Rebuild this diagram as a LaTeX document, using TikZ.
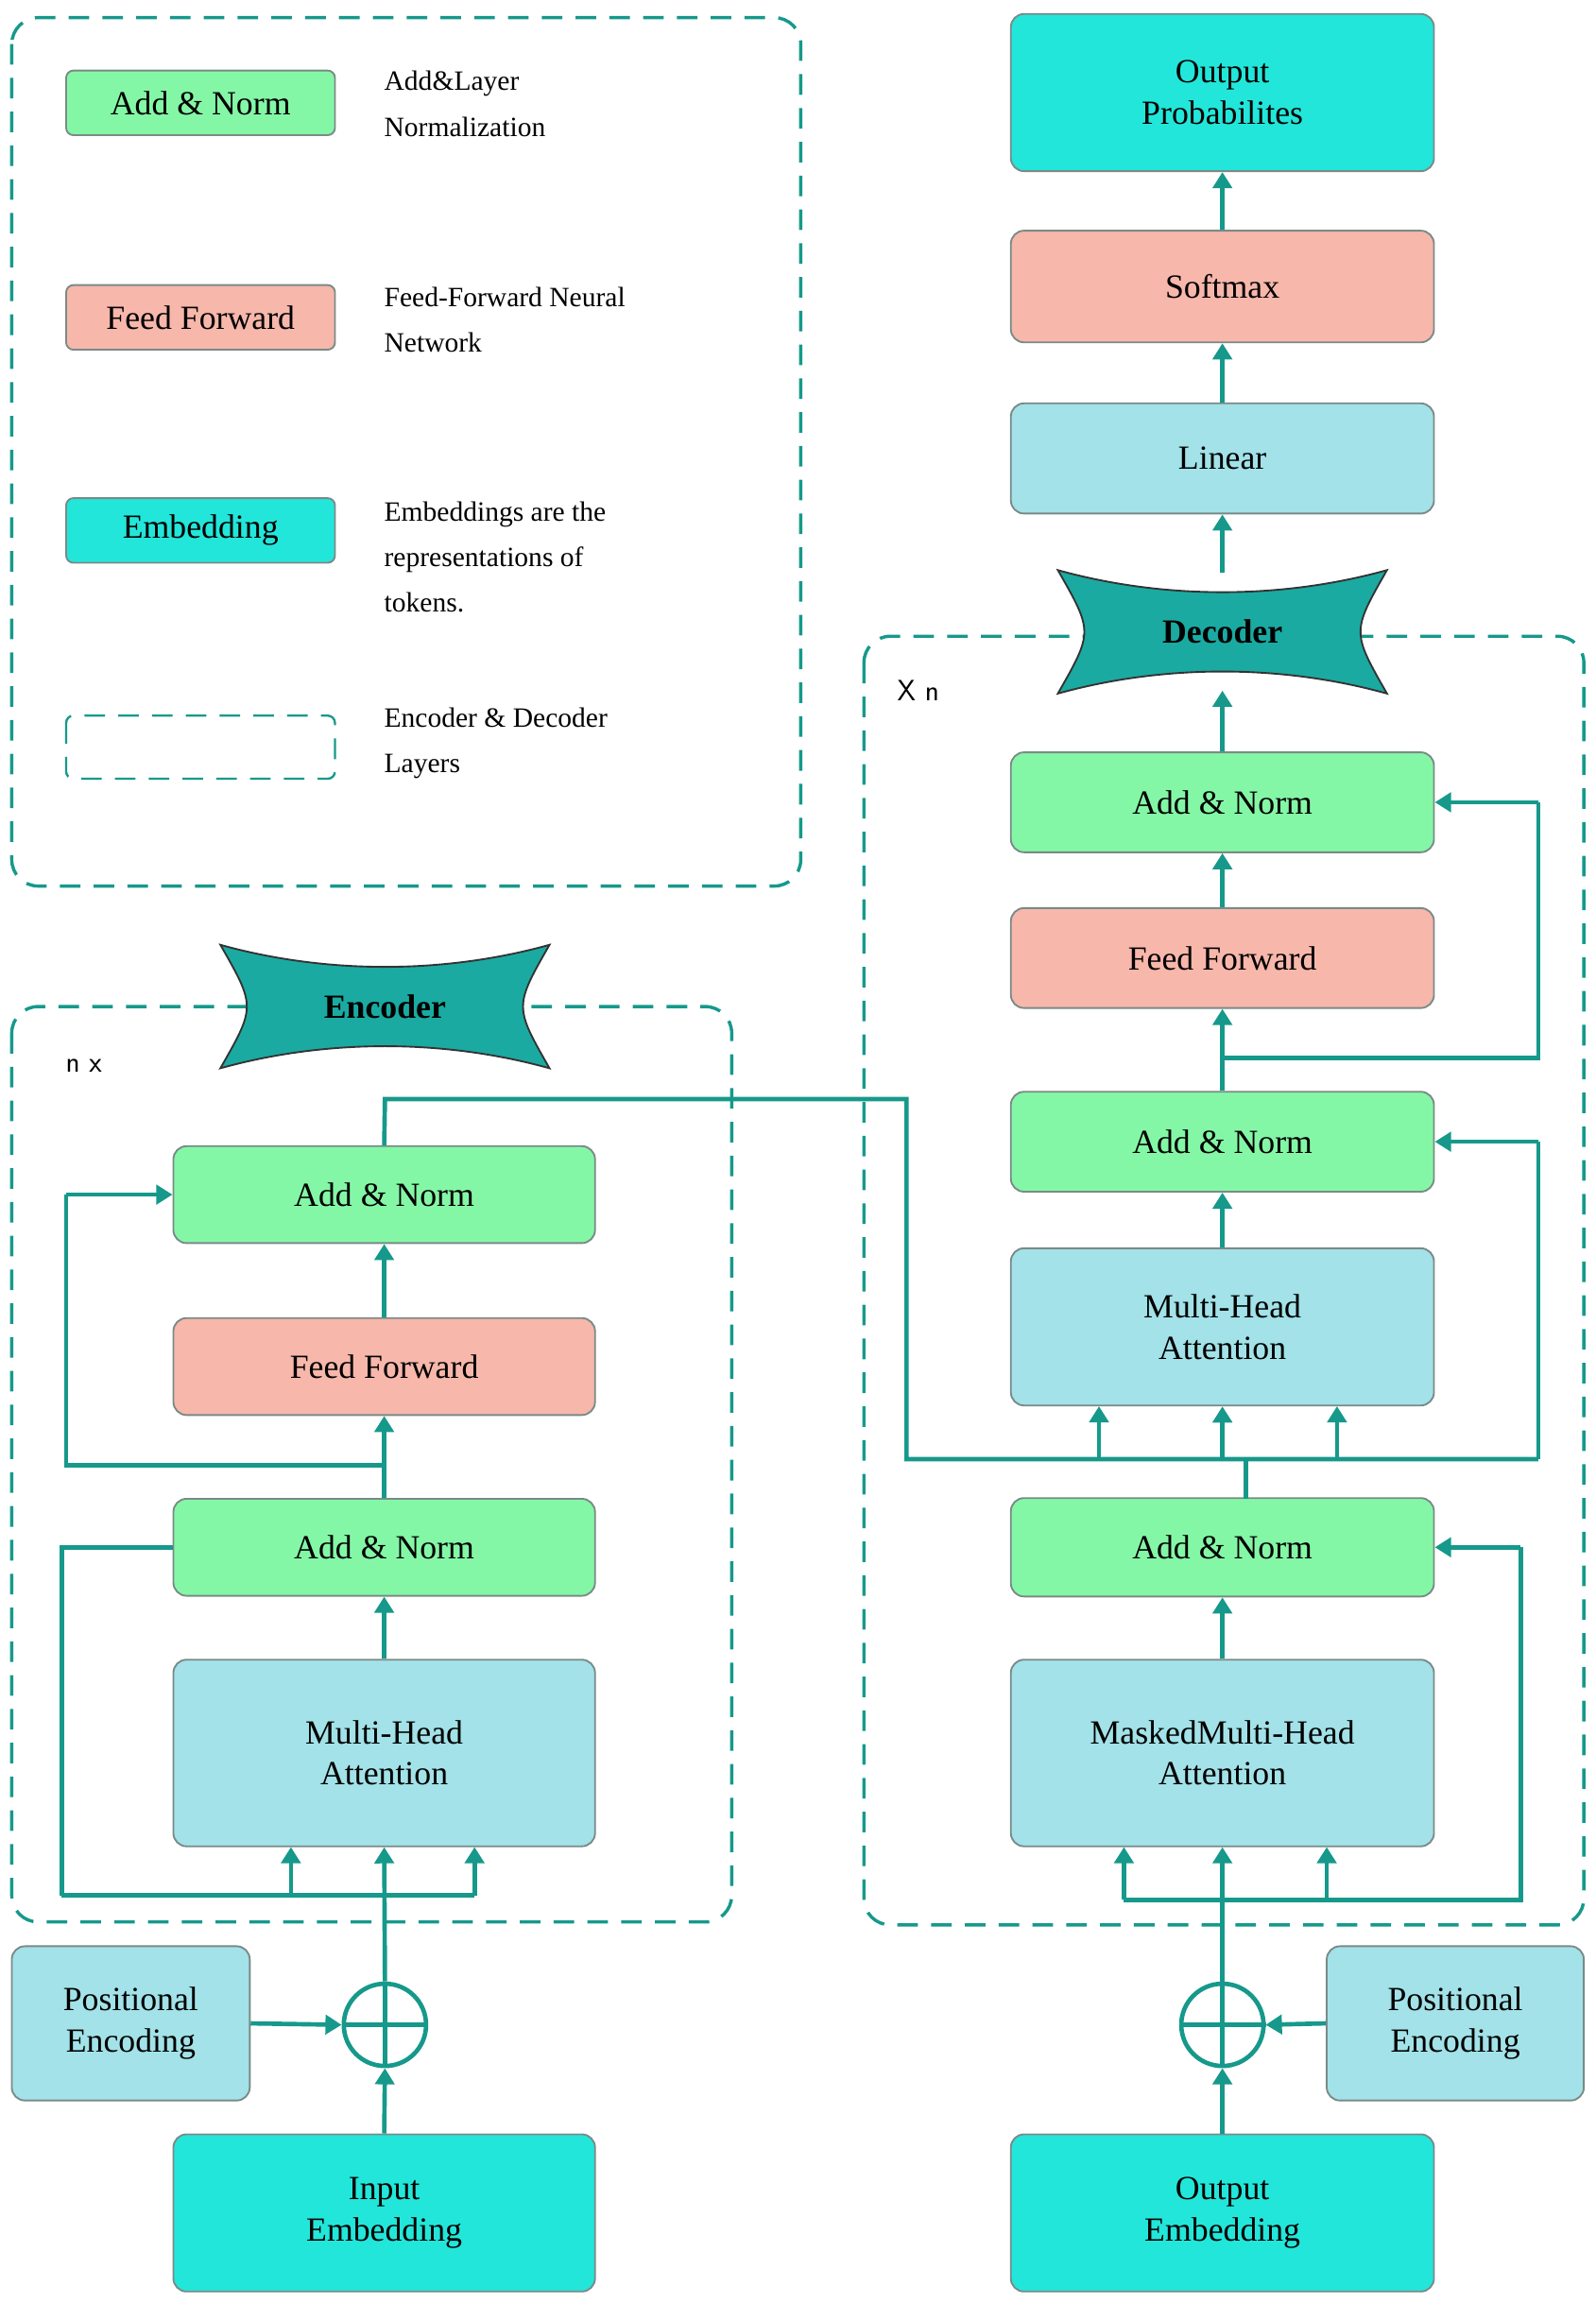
\documentclass[tikz,border=0pt]{standalone}
\usepackage{fontspec}
\setmainfont{Liberation Serif}
\usetikzlibrary{arrows.meta}
\definecolor{ln}{HTML}{16998B}
\definecolor{gr}{HTML}{84F7A6}
\definecolor{sa}{HTML}{F7B7AB}
\definecolor{cy}{HTML}{22E6DA}
\definecolor{lb}{HTML}{A2E2E8}
\definecolor{ban}{HTML}{1AAAA2}
\definecolor{bd}{HTML}{7A8A88}
\begin{document}
\begin{tikzpicture}[x=1pt,y=-1pt,
 box/.style={draw=bd,line width=1.2pt,rounded corners=9pt,font=\fontsize{23}{28}\selectfont,align=center,inner sep=0pt},
 lay/.style={draw=ln,line width=2.2pt,dash pattern=on 14pt off 9pt,rounded corners=18pt},
 con/.style={draw=ln,line width=3pt},
 arr/.style={con,-{Triangle[length=11pt,width=13pt]}},
 leg/.style={font=\fontsize{19}{31}\selectfont,align=left,anchor=north west}]
\useasboundingbox (0,0) rectangle (1086,1568);
% legend
\draw[lay] (8,12) rectangle (545,603);
\node[box,fill=gr,minimum width=183pt,minimum height=44pt,rounded corners=5pt] (l1) at (136.5,70) {Add \& Norm};
\node[box,fill=sa,minimum width=183pt,minimum height=44pt,rounded corners=5pt] (l2) at (136.5,216) {Feed Forward};
\node[box,fill=cy,minimum width=183pt,minimum height=44pt,rounded corners=5pt] (l3) at (136.5,361) {Embedding};
\draw[draw=ln,line width=1.5pt,dash pattern=on 14pt off 9pt,rounded corners=5pt] (45,487) rectangle (228,530);
\node[leg] (t1) at (258,45) {Add\&Layer\\Normalization};
\node[leg] (t2) at (258,192) {Feed-Forward Neural\\Network};
\node[leg] (t3) at (258,338) {Embeddings are the\\representations of\\tokens.};
\node[leg] (t4) at (258,478) {Encoder \& Decoder\\Layers};
% layer boxes
\draw[lay] (8,685) rectangle (498,1308);
\draw[lay] (588,433) rectangle (1078,1310);
\node[font=\fontsize{20}{24}\selectfont\sffamily] (nx) at (57,725) {n x};
\node[font=\fontsize{20}{24}\selectfont\sffamily] (xn) at (625,470) {X n};
% banners
\foreach \n/\cx/\cy/\t in {enc/262/685/Encoder,dec/832/430/Decoder}{
 \fill[ban,draw=black!80,line width=1.2pt] (\cx-112,\cy-42) .. controls (\cx-40,\cy-22) and (\cx+40,\cy-22) .. (\cx+112,\cy-42) .. controls (\cx+88,\cy) .. (\cx+112,\cy+42) .. controls (\cx+40,\cy+22) and (\cx-40,\cy+22) .. (\cx-112,\cy+42) .. controls (\cx-88,\cy) .. cycle;
 \node[font=\fontsize{23}{28}\selectfont\bfseries,minimum width=170pt,minimum height=60pt] (\n) at (\cx,\cy) {\t};
}
% encoder
\node[box,fill=gr,minimum width=287pt,minimum height=66pt] (ea2) at (261.5,813) {Add \& Norm};
\node[box,fill=sa,minimum width=287pt,minimum height=66pt] (eff) at (261.5,930) {Feed Forward};
\node[box,fill=gr,minimum width=287pt,minimum height=66pt] (ea1) at (261.5,1053) {Add \& Norm};
\node[box,fill=lb,minimum width=287pt,minimum height=127pt] (emh) at (261.5,1193) {Multi-Head\\Attention};
\node[box,fill=cy,minimum width=287pt,minimum height=107pt] (ein) at (261.5,1506) {Input\\Embedding};
\node[box,fill=lb,minimum width=162pt,minimum height=105pt] (epe) at (89,1377) {Positional\\Encoding};
\node[circle,draw=ln,line width=3pt,minimum size=56pt,inner sep=0pt] (eop) at (262,1378) {};
\draw[con] (eop.north)--(eop.south) (eop.west)--(eop.east);
% decoder
\node[box,fill=cy,minimum width=288pt,minimum height=107pt] (out) at (832,63) {Output\\Probabilites};
\node[box,fill=sa,minimum width=288pt,minimum height=76pt] (sm) at (832,195) {Softmax};
\node[box,fill=lb,minimum width=288pt,minimum height=75pt] (lin) at (832,312) {Linear};
\node[box,fill=gr,minimum width=288pt,minimum height=68pt] (da3) at (832,546) {Add \& Norm};
\node[box,fill=sa,minimum width=288pt,minimum height=68pt] (dff) at (832,652) {Feed Forward};
\node[box,fill=gr,minimum width=288pt,minimum height=68pt] (da2) at (832,777) {Add \& Norm};
\node[box,fill=lb,minimum width=288pt,minimum height=107pt] (dmh) at (832,903) {Multi-Head\\Attention};
\node[box,fill=gr,minimum width=288pt,minimum height=67pt] (da1) at (832,1053) {Add \& Norm};
\node[box,fill=lb,minimum width=288pt,minimum height=127pt] (dmm) at (832,1193) {MaskedMulti-Head\\Attention};
\node[box,fill=cy,minimum width=288pt,minimum height=107pt] (dout) at (832,1506) {Output\\Embedding};
\node[box,fill=lb,minimum width=175pt,minimum height=105pt] (dpe) at (990.5,1377) {Positional\\Encoding};
\node[circle,draw=ln,line width=3pt,minimum size=56pt,inner sep=0pt] (dop) at (832,1378) {};
\draw[con] (dop.north)--(dop.south) (dop.west)--(dop.east);
% encoder connectors
\draw[arr] (ein.north)--(eop.south);
\draw[arr] (epe.east)--(eop.west);
\draw[arr] (eop.north)--(emh.south);
\draw[con] (42,1290)--(323,1290);
\draw[arr] (198,1290)--(198,1257);
\draw[arr] (323,1290)--(323,1257);
\draw[con] (42,1290)--(42,1053)--(ea1.west);
\draw[arr] (emh.north)--(ea1.south);
\draw[arr] (ea1.north)--(eff.south);
\draw[con] (262,997)--(45,997)--(45,813);
\draw[arr] (45,813)--(ea2.west);
\draw[arr] (eff.north)--(ea2.south);
\draw[con] (ea2.north)--(262,748)--(617,748)--(617,993)--(1047,993);
\draw[arr] (748,993)--(748,957);
\draw[arr] (832,993)--(dmh.south);
\draw[arr] (910,993)--(910,957);
% decoder connectors
\draw[arr] (dout.north)--(dop.south);
\draw[arr] (dpe.west)--(dop.east);
\draw[arr] (dop.north)--(dmm.south);
\draw[con] (765,1293)--(1035,1293)--(1035,1053);
\draw[arr] (1035,1053)--(da1.east);
\draw[arr] (765,1293)--(765,1257);
\draw[arr] (903,1293)--(903,1257);
\draw[arr] (dmm.north)--(da1.south);
\draw[con] (848,1020)--(848,993);
\draw[con] (1047,993)--(1047,777);
\draw[arr] (1047,777)--(da2.east);
\draw[arr] (dmh.north)--(da2.south);
\draw[arr] (da2.north)--(dff.south);
\draw[con] (832,720)--(1047,720)--(1047,546);
\draw[arr] (1047,546)--(da3.east);
\draw[arr] (dff.north)--(da3.south);
\draw[arr] (da3.north)--(832,470);
\draw[arr] (832,390)--(lin.south);
\draw[arr] (lin.north)--(sm.south);
\draw[arr] (sm.north)--(out.south);
\end{tikzpicture}
\end{document}
